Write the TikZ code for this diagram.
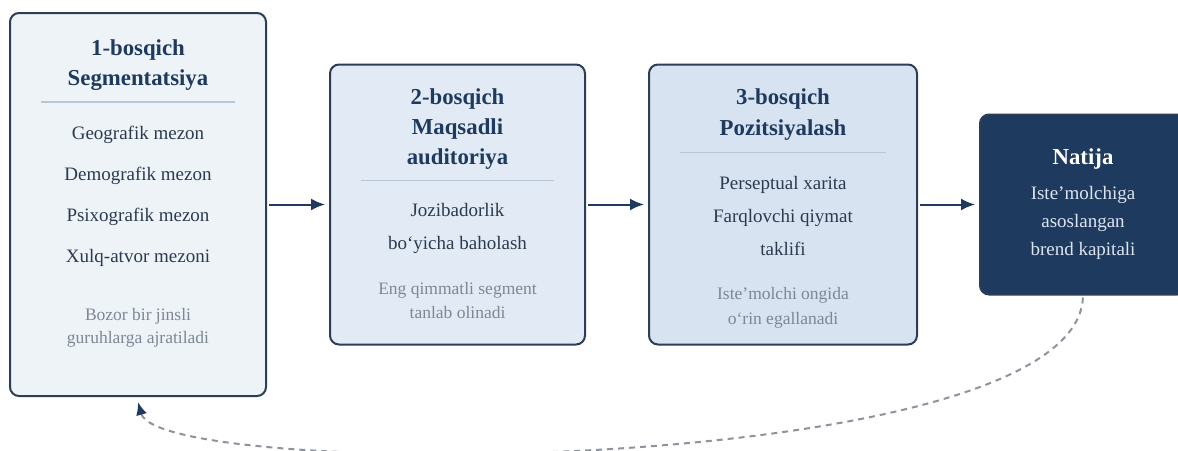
\documentclass[tikz,border=0pt]{standalone}
\usepackage{fontspec}
\setmainfont{Liberation Serif}
\usetikzlibrary{positioning,arrows.meta}

\definecolor{navy}{HTML}{1F3A5F}
\definecolor{edge}{HTML}{2C3D54}
\definecolor{ink}{HTML}{2B3A4E}
\definecolor{mute}{HTML}{7D8796}
\definecolor{rule}{HTML}{B7C7DA}
\definecolor{fillA}{HTML}{EEF3F8}
\definecolor{fillB}{HTML}{E2EBF5}
\definecolor{fillC}{HTML}{D7E3F0}
\definecolor{loopgray}{HTML}{8D939C}
\definecolor{pale}{HTML}{DCE5F0}

\tikzset{
  stage/.style={draw=edge, line width=2pt, rounded corners=9pt, inner sep=0pt},
  head/.style={font=\fontsize{22.8}{30}\selectfont\bfseries, text=navy, align=center, inner sep=0pt, anchor=base},
  item/.style={font=\fontsize{19}{33}\selectfont, text=ink, align=center, inner sep=0pt, anchor=base},
  note/.style={font=\fontsize{17.5}{24}\selectfont, text=mute, align=center, inner sep=0pt, anchor=base},
  sep/.style={draw=rule, line width=1.2pt},
  flow/.style={draw=navy, line width=2pt, -{Latex[length=14pt,width=12pt]}, shorten <=2pt, shorten >=4pt},
  back/.style={draw=loopgray, line width=2pt, dash pattern=on 6pt off 5pt, shorten <=2pt, -{Latex[length=13pt,width=11pt,color=navy]}}
}

\begin{document}
\begin{tikzpicture}[node distance=62pt]
    \useasboundingbox (0,0) rectangle (1178pt,-450pt);
    \clip (0,0) rectangle (1178pt,-450pt);

    % stages
    \node[stage, fill=fillA, minimum width=256pt, minimum height=383pt] (s1) at (138pt,-204.5pt) {};
    \node[stage, fill=fillB, minimum width=255pt, minimum height=280pt, right=of s1] (s2) {};
    \node[stage, fill=fillC, minimum width=268pt, minimum height=280pt, right=of s2] (s3) {};
    \node[stage, fill=navy, minimum width=206pt, minimum height=180pt, right=61pt of s3] (res) {};

    % stage 1 (last-line baselines)
    \node[below=73pt of s1.north, head] (h1) {1-bosqich\\Segmentatsiya};
    \draw[sep] ([xshift=32pt,yshift=-90pt]s1.north west) -- ([xshift=-32pt,yshift=-90pt]s1.north east);
    \node[below=250pt of s1.north, item, font=\fontsize{19}{41}\selectfont] (i1)
        {Geografik mezon\\Demografik mezon\\Psixografik mezon\\Xulq-atvor mezoni};
    \node[below=331pt of s1.north, note, font=\fontsize{17.5}{22.5}\selectfont] (n1)
        {Bozor bir jinsli\\guruhlarga ajratiladi};

    % stage 2
    \node[below=101pt of s2.north, head] (h2) {2-bosqich\\Maqsadli\\auditoriya};
    \draw[sep] ([xshift=32pt,yshift=-117pt]s2.north west) -- ([xshift=-32pt,yshift=-117pt]s2.north east);
    \node[below=186pt of s2.north, item] (i2) {Jozibadorlik\\bo‘yicha baholash};
    \node[below=255pt of s2.north, note] (n2) {Eng qimmatli segment\\tanlab olinadi};

    % stage 3
    \node[below=72pt of s3.north, head, font=\fontsize{22.8}{31}\selectfont\bfseries] (h3) {3-bosqich\\Pozitsiyalash};
    \draw[sep] ([xshift=32pt,yshift=-89pt]s3.north west) -- ([xshift=-32pt,yshift=-89pt]s3.north east);
    \node[below=192pt of s3.north, item] (i3) {Perseptual xarita\\Farqlovchi qiymat\\taklifi};
    \node[below=261pt of s3.north, note, font=\fontsize{17.5}{25}\selectfont] (n3) {Iste’molchi ongida\\o‘rin egallanadi};

    % result
    \node[below=51pt of res.north, head, text=white] (h4) {Natija};
    \node[below=142pt of res.north, item, text=pale, font=\fontsize{19}{28}\selectfont] (i4)
        {Iste’molchiga\\asoslangan\\brend kapitali};

    % connectors
    \draw[flow] (s1) -- (s2);
    \draw[flow] (s2) -- (s3);
    \draw[flow] (s3) -- (res);
    \draw[back] (res.south) .. controls +(-8pt,-183pt) and +(22pt,-79pt) .. ([yshift=-5pt]s1.south);
\end{tikzpicture}
\end{document}
